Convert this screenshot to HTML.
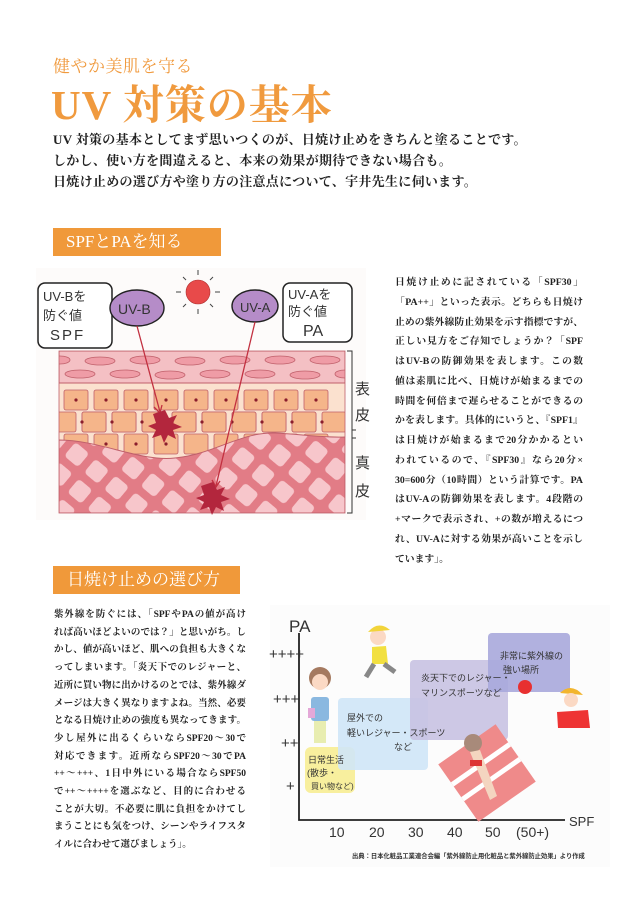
<!DOCTYPE html>
<html><head><meta charset="utf-8">
<style>
body{margin:0;background:#fff;}
#p{position:relative;width:640px;height:900px;overflow:hidden;background:#fff;font-family:"Liberation Serif","Noto Serif CJK JP","Noto Serif CJK SC",serif;}
.a{position:absolute;white-space:nowrap;}
.or{color:#f09a3e;}
.intro{font-size:13px;font-weight:bold;color:#222;letter-spacing:0.3px;}
.hd{position:absolute;background:#f0993a;color:#fff;font-size:17px;line-height:28px;padding-left:13px;box-sizing:border-box;}
.tx div{white-space:nowrap;text-align:justify;text-align-last:justify;overflow:visible;}
.tx div.l{text-align-last:left;}
</style></head><body><div id="p">
<div class="a or" style="left:53px;top:52px;font-size:17px;letter-spacing:0.5px;">健やか美肌を守る</div>
<div class="a or" style="left:51px;top:72px;font-size:41px;letter-spacing:1px;font-weight:bold;">UV 対策の基本</div>
<div class="a intro" style="left:53px;top:129px;">UV 対策の基本としてまず思いつくのが、日焼け止めをきちんと塗ることです。</div>
<div class="a intro" style="left:53px;top:150px;">しかし、使い方を間違えると、本来の効果が期待できない場合も。</div>
<div class="a intro" style="left:53px;top:171px;">日焼け止めの選び方や塗り方の注意点について、宇井先生に伺います。</div>

<div class="hd" style="left:53px;top:228px;width:168px;height:28px;">SPFとPAを知る</div>
<div class="hd" style="left:53px;top:566px;width:187px;height:28px;padding-left:14px;">日焼け止めの選び方</div>

<svg class="a" style="left:0;top:0" width="640" height="900">
<defs>
<pattern id="dm" width="26" height="26" patternUnits="userSpaceOnUse" patternTransform="rotate(40)">
<rect width="26" height="26" fill="#e27c86"/>
<rect x="4" y="4" width="18" height="18" rx="4" fill="#f7c6cb"/>
</pattern>
<clipPath id="sk"><rect x="59" y="351" width="286" height="162"/></clipPath>
</defs>
<rect x="36" y="268" width="330" height="252" fill="#fdfbfa"/>
<g clip-path="url(#sk)">
<rect x="59" y="351" width="286" height="162" fill="#fbe1cf"/>
<rect x="59" y="351" width="286" height="32" fill="#f4c0c4" stroke="#c0606b"/>
<g fill="#ef9ca6" stroke="#c0606b" stroke-width="0.8">
<ellipse cx="60" cy="360" rx="10" ry="4"/><ellipse cx="100" cy="361" rx="15" ry="4"/><ellipse cx="145" cy="360" rx="15" ry="4"/><ellipse cx="190" cy="361" rx="15" ry="4"/><ellipse cx="235" cy="360" rx="15" ry="4"/><ellipse cx="280" cy="360" rx="15" ry="4"/><ellipse cx="325" cy="360" rx="15" ry="4"/>
<ellipse cx="80" cy="374" rx="15" ry="4"/><ellipse cx="125" cy="374" rx="15" ry="4"/><ellipse cx="170" cy="375" rx="15" ry="4"/><ellipse cx="215" cy="374" rx="15" ry="4"/><ellipse cx="260" cy="374" rx="15" ry="4"/><ellipse cx="305" cy="375" rx="15" ry="4"/><ellipse cx="345" cy="374" rx="10" ry="4"/>
</g>
<g fill="#f5b58a" stroke="#c0606b" stroke-width="0.8">
<g id="r1"><rect x="64" y="390" width="24" height="20" rx="2"/><rect x="94" y="390" width="24" height="20" rx="2"/><rect x="124" y="390" width="24" height="20" rx="2"/><rect x="154" y="390" width="24" height="20" rx="2"/><rect x="184" y="390" width="24" height="20" rx="2"/><rect x="214" y="390" width="24" height="20" rx="2"/><rect x="244" y="390" width="24" height="20" rx="2"/><rect x="274" y="390" width="24" height="20" rx="2"/><rect x="304" y="390" width="24" height="20" rx="2"/></g>
<use href="#r1" x="-12" y="22"/><use href="#r1" x="18" y="22"/>
<use href="#r1" x="0" y="44"/>
</g>
<g fill="#8a1d2c">
<circle cx="76" cy="400" r="1.6"/><circle cx="106" cy="400" r="1.6"/><circle cx="136" cy="400" r="1.6"/><circle cx="166" cy="400" r="1.6"/><circle cx="196" cy="400" r="1.6"/><circle cx="226" cy="400" r="1.6"/><circle cx="256" cy="400" r="1.6"/><circle cx="286" cy="400" r="1.6"/><circle cx="316" cy="400" r="1.6"/>
<circle cx="82" cy="422" r="1.6"/><circle cx="112" cy="422" r="1.6"/><circle cx="142" cy="422" r="1.6"/><circle cx="172" cy="422" r="1.6"/><circle cx="202" cy="422" r="1.6"/><circle cx="232" cy="422" r="1.6"/><circle cx="262" cy="422" r="1.6"/><circle cx="292" cy="422" r="1.6"/><circle cx="322" cy="422" r="1.6"/>
<circle cx="106" cy="444" r="1.6"/><circle cx="136" cy="444" r="1.6"/><circle cx="166" cy="444" r="1.6"/><circle cx="286" cy="444" r="1.6"/><circle cx="316" cy="444" r="1.6"/>
</g>
<path d="M59 440 C100 440 140 462 175 458 C215 454 240 432 275 433 C300 434 320 438 345 437 L345 513 L59 513 Z" fill="url(#dm)" stroke="#c0606b"/>
</g>
<rect x="59" y="351" width="286" height="162" fill="none" stroke="#c0606b" stroke-width="0.8"/>
<path d="M347 351 H352 V513 H347 M352 430 H356 M352 438 H356" fill="none" stroke="#333" stroke-width="1"/>
<g font-size="15" fill="#333" font-family="Liberation Sans,Noto Sans CJK JP,sans-serif">
<text x="355" y="394">表</text><text x="355" y="420">皮</text><text x="355" y="468">真</text><text x="355" y="496">皮</text>
</g>
<circle cx="198" cy="292" r="12" fill="#e84a4a" stroke="#b03030" stroke-width="0.6"/>
<g stroke="#444" stroke-width="1">
<line x1="198" y1="270" x2="198" y2="275"/><line x1="198" y1="309" x2="198" y2="314"/><line x1="176" y1="292" x2="181" y2="292"/><line x1="215" y1="292" x2="220" y2="292"/>
<line x1="183" y1="277" x2="186" y2="280"/><line x1="210" y1="304" x2="213" y2="307"/><line x1="213" y1="277" x2="210" y2="280"/><line x1="186" y1="304" x2="183" y2="307"/>
</g>
<rect x="38" y="283" width="74" height="65" rx="7" fill="#fff" stroke="#222" stroke-width="1.5"/>
<rect x="283" y="283" width="69" height="59" rx="7" fill="#fff" stroke="#222" stroke-width="1.5"/>
<g font-family="Liberation Sans,Noto Sans CJK JP,sans-serif" fill="#333" font-size="13">
<text x="43" y="301">UV-Bを</text><text x="43" y="320">防ぐ値</text><text x="50" y="340" font-size="15" letter-spacing="2">SPF</text>
<text x="288" y="299">UV-Aを</text><text x="288" y="316">防ぐ値</text><text x="303" y="336" font-size="16">PA</text>
</g>
<ellipse cx="137" cy="308" rx="27" ry="18" fill="#b58cc8" stroke="#222" stroke-width="1.4"/>
<ellipse cx="255" cy="306" rx="23" ry="16" fill="#b58cc8" stroke="#222" stroke-width="1.4"/>
<text x="118" y="314" font-family="Liberation Sans,sans-serif" font-size="14" fill="#333">UV-B</text>
<text x="240" y="312" font-family="Liberation Sans,sans-serif" font-size="13" fill="#333">UV-A</text>
<g stroke="#c23040" stroke-width="1.3" fill="none">
<line x1="137" y1="326" x2="160" y2="412"/><path d="M154 407 L160 413 L162 405"/>
<line x1="255" y1="322" x2="216" y2="486"/><path d="M212 480 L216 487 L220 481"/>
</g>
<path d="M165 410 l4 8 8-3-4 8 9 4-9 3 3 9-8-4-4 8-3-8-9 3 4-8-8-4 8-3-3-9z" fill="#b3263d"/>
<path d="M213 482 l4 8 8-3-4 8 9 4-9 3 3 9-8-4-4 8-3-8-9 3 4-8-8-4 8-3-3-9z" fill="#b3263d"/>

<rect x="270" y="605" width="340" height="262" fill="#fcfcfc"/>
<rect x="305" y="747" width="50" height="46" rx="6" fill="#f8ef9e"/>
<rect x="338" y="698" width="90" height="72" rx="4" fill="#cfe6f7" opacity="0.9"/>
<rect x="410" y="660" width="98" height="80" rx="4" fill="#c8c2e2" opacity="0.9"/>
<rect x="488" y="633" width="82" height="59" rx="4" fill="#a9a9dc" opacity="0.9"/>
<path d="M299 633 V820 H565" stroke="#222" stroke-width="1.8" fill="none"/>
<g font-family="Liberation Sans,sans-serif" fill="#333">
<text x="289" y="632" font-size="17">PA</text>
<text x="569" y="826" font-size="13">SPF</text>
<text x="269" y="659" font-size="15">++++</text><text x="273" y="704" font-size="15">+++</text><text x="281" y="748" font-size="15">++</text><text x="286" y="791" font-size="15">+</text>
<text x="329" y="837" font-size="14">10</text><text x="369" y="837" font-size="14">20</text><text x="408" y="837" font-size="14">30</text><text x="447" y="837" font-size="14">40</text><text x="485" y="837" font-size="14">50</text><text x="516" y="837" font-size="14">(50+)</text>
</g>
<g font-family="Liberation Sans,Noto Sans CJK JP,sans-serif" fill="#333" font-size="9">
<text x="500" y="659">非常に紫外線の</text><text x="503" y="673">強い場所</text>
<text x="421" y="681">炎天下でのレジャー・</text><text x="421" y="696">マリンスポーツなど</text>
<text x="347" y="721">屋外での</text><text x="347" y="736">軽いレジャー・スポーツ</text><text x="394" y="750">など</text>
<text x="308" y="763">日常生活</text><text x="307" y="776">(散歩・</text><text x="311" y="789" font-size="8">買い物など)</text>
</g>
<circle cx="525" cy="687" r="7" fill="#e83030"/>
<g transform="rotate(-35 487 773)"><rect x="452" y="738" width="70" height="70" fill="#ef8a8a"/><rect x="452" y="760" width="70" height="5" fill="#fff"/><rect x="452" y="778" width="70" height="5" fill="#fff"/></g>
<circle cx="473" cy="743" r="9" fill="#a88a7a"/>
<path d="M470 752 L490 800 L497 796 L480 750Z" fill="#f4d5c0"/>
<rect x="470" y="760" width="12" height="6" fill="#d33"/>
<circle cx="320" cy="678" r="11" fill="#a57a60"/><circle cx="320" cy="682" r="8" fill="#fbd9c4"/>
<rect x="311" y="697" width="18" height="24" rx="3" fill="#8ab8e0"/>
<rect x="314" y="721" width="12" height="22" fill="#e8edb0"/>
<rect x="308" y="708" width="7" height="10" fill="#e4a8d8"/>
<circle cx="378" cy="637" r="8" fill="#fbd9c4"/><path d="M368 632 Q378 620 390 630Z" fill="#f2d43a"/>
<path d="M372 647 L386 646 L388 664 L372 664Z" fill="#f2e040"/>
<path d="M374 664 L366 677 M384 664 L395 672" stroke="#888" stroke-width="5"/>
<path d="M560 693 Q571 682 583 695Z" fill="#f2b52e"/><circle cx="571" cy="700" r="7" fill="#fbd9c4"/>
<path d="M557 712 L588 710 L590 728 L558 728Z" fill="#e33"/>
<text x="352" y="858" font-family="Liberation Sans,Noto Sans CJK JP,sans-serif" font-size="6.3" font-weight="bold" fill="#333">出典：日本化粧品工業連合会編「紫外線防止用化粧品と紫外線防止効果」より作成</text>
</svg>

<div class="a tx" style="left:395px;top:273px;font-size:9.8px;color:#222;font-weight:bold;line-height:19.75px;width:188px;">
<div>日焼け止めに記されている「SPF30」</div>
<div>「PA++」といった表示。どちらも日焼け</div>
<div>止めの紫外線防止効果を示す指標ですが、</div>
<div>正しい見方をご存知でしょうか？「SPF</div>
<div>はUV-Bの防御効果を表します。この数</div>
<div>値は素肌に比べ、日焼けが始まるまでの</div>
<div>時間を何倍まで遅らせることができるの</div>
<div>かを表します。具体的にいうと、『SPF1』</div>
<div>は日焼けが始まるまで20分かかるとい</div>
<div>われているので、『SPF30』なら20分×</div>
<div>30=600分（10時間）という計算です。PA</div>
<div>はUV-Aの防御効果を表します。4段階の</div>
<div>+マークで表示され、+の数が増えるにつ</div>
<div>れ、UV-Aに対する効果が高いことを示し</div>
<div class="l">ています」。</div>
</div>

<div class="a tx" style="left:54px;top:607px;font-size:9.5px;color:#222;font-weight:bold;line-height:17.7px;width:192px;">
<div>紫外線を防ぐには、「SPFやPAの値が高け</div>
<div>れば高いほどよいのでは？」と思いがち。し</div>
<div>かし、値が高いほど、肌への負担も大きくな</div>
<div>ってしまいます。「炎天下でのレジャーと、</div>
<div>近所に買い物に出かけるのとでは、紫外線ダ</div>
<div>メージは大きく異なりますよね。当然、必要</div>
<div>となる日焼け止めの強度も異なってきます。</div>
<div>少し屋外に出るくらいならSPF20～30で</div>
<div>対応できます。近所ならSPF20～30でPA</div>
<div>++～+++、1日中外にいる場合ならSPF50</div>
<div>で++～++++を選ぶなど、目的に合わせる</div>
<div>ことが大切。不必要に肌に負担をかけてし</div>
<div>まうことにも気をつけ、シーンやライフスタ</div>
<div class="l">イルに合わせて選びましょう」。</div>
</div>
</div></body></html>
